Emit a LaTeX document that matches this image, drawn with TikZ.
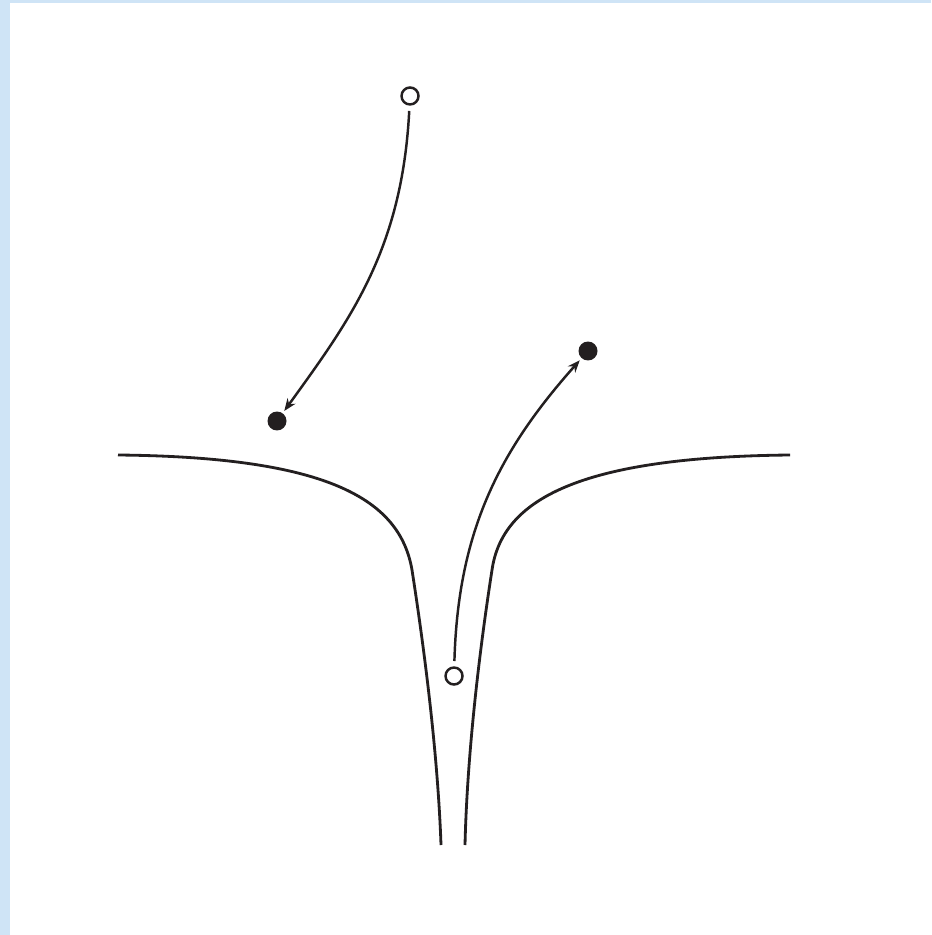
\documentclass[tikz,border=0pt]{standalone}
\usepackage{tikz}
\usetikzlibrary{arrows.meta}
\definecolor{frame}{RGB}{207,228,246}
\definecolor{ink}{RGB}{35,31,32}

\begin{document}
\begin{tikzpicture}[x=0.02cm,y=-0.02cm,line width=1.3pt,
  wall/.style={draw=ink,line width=1.6pt},
  hollow/.style={circle,draw=ink,fill=white,line width=1.4pt,inner sep=0pt,minimum size=0.34cm},
  dot/.style={circle,fill=ink,inner sep=0pt,minimum size=0.38cm},
  a/.style={draw=ink,-{Stealth[length=7pt,width=5.5pt]},line width=1.4pt,shorten >=1pt,shorten <=3pt}]
  % background and frame
  \fill[frame] (0,0) rectangle (931,935);
  \fill[white] (10,3) rectangle (931,935);
  \useasboundingbox (0,0) rectangle (931,935);
  % funnel walls
  \draw[wall] (118,455) .. controls (330,457) and (400,500) .. (412,570)
    .. controls (426,660) and (438,760) .. (441,845);
  \draw[wall] (790,455) .. controls (578,457) and (502,500) .. (492,570)
    .. controls (478,660) and (467,760) .. (465,845);
  % particles
  \node[hollow] (p1) at (410,96) {};
  \node[dot] (q1) at (277,421) {};
  \node[hollow] (p2) at (454,676) {};
  \node[dot] (q2) at (588,351) {};
  \draw[a] (p1) .. controls (402,250) and (350,320) .. (q1);
  \draw[a] (p2) .. controls (458,530) and (500,450) .. (q2);
\end{tikzpicture}
\end{document}
